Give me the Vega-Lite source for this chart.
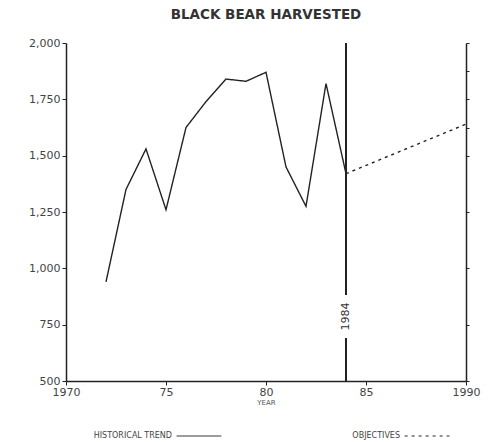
{
  "$schema": "https://vega.github.io/schema/vega-lite/v6.json",
  "width": 400,
  "height": 338,
  "autosize": "none",
  "padding": {"left": 66, "top": 43, "right": 25, "bottom": 61},
  "background": "white",
  "title": {"text": "BLACK BEAR HARVESTED", "font": "DejaVu Sans", "fontSize": 13.5, "fontWeight": "bold", "color": "#333", "offset": 16, "anchor": "middle"},
  "config": {
    "view": {"stroke": null},
    "axis": {"font": "DejaVu Sans", "labelFont": "DejaVu Sans", "titleFont": "DejaVu Sans", "labelColor": "#444", "domainColor": "#222", "tickColor": "#222", "grid": false, "labelFontSize": 11, "domainWidth": 1.5, "tickWidth": 1}
  },
  "datasets": {
    "harvest": [
      {"year": 1972, "bears": 940, "series": "HISTORICAL TREND"},
      {"year": 1973, "bears": 1350, "series": "HISTORICAL TREND"},
      {"year": 1974, "bears": 1530, "series": "HISTORICAL TREND"},
      {"year": 1975, "bears": 1260, "series": "HISTORICAL TREND"},
      {"year": 1976, "bears": 1625, "series": "HISTORICAL TREND"},
      {"year": 1977, "bears": 1740, "series": "HISTORICAL TREND"},
      {"year": 1978, "bears": 1840, "series": "HISTORICAL TREND"},
      {"year": 1979, "bears": 1830, "series": "HISTORICAL TREND"},
      {"year": 1980, "bears": 1870, "series": "HISTORICAL TREND"},
      {"year": 1981, "bears": 1450, "series": "HISTORICAL TREND"},
      {"year": 1982, "bears": 1275, "series": "HISTORICAL TREND"},
      {"year": 1983, "bears": 1820, "series": "HISTORICAL TREND"},
      {"year": 1984, "bears": 1420, "series": "HISTORICAL TREND"},
      {"year": 1984, "bears": 1420, "series": "OBJECTIVES"},
      {"year": 1990, "bears": 1640, "series": "OBJECTIVES"}
    ],
    "marker": [
      {"year": 1984, "from": 2000, "to": 882},
      {"year": 1984, "from": 691, "to": 500}
    ],
    "markerLabel": [
      {"year": 1984, "bears": 786, "label": "1984"}
    ]
  },
  "resolve": {"axis": {"y": "independent"}},
  "layer": [
    {
      "data": {"name": "harvest"},
      "mark": {"type": "line", "color": "#222", "strokeWidth": 1.4},
      "encoding": {
        "x": {"field": "year", "type": "quantitative", "scale": {"domain": [1970, 1990], "nice": false, "zero": false},
          "axis": {"values": [1970, 1975, 1980, 1985, 1990], "format": "d", "labelExpr": "(datum.value == 1970 || datum.value == 1990) ? datum.label : slice(datum.label, 2)", "title": "YEAR", "titleFontSize": 7, "titleFontWeight": "normal", "titleColor": "#555", "titlePadding": 1, "tickSize": 4, "labelPadding": 1, "labelFlush": false}},
        "y": {"field": "bears", "type": "quantitative", "scale": {"domain": [500, 2000], "nice": false, "zero": false},
          "axis": {"values": [500, 750, 1000, 1250, 1500, 1750, 2000], "format": ",d", "title": null, "tickSize": 4, "labelPadding": 2, "orient": "left"}},
        "strokeDash": {"field": "series", "type": "nominal",
          "scale": {"domain": ["HISTORICAL TREND", "OBJECTIVES"], "range": [[1, 0], [3, 4]]},
          "legend": {"title": null, "orient": "none", "direction": "horizontal", "legendX": 110, "legendY": 370, "symbolType": "stroke", "symbolSize": 2000, "symbolStrokeColor": "#222", "symbolStrokeWidth": 1, "labelAlign": "right", "labelOffset": -50, "labelFont": "DejaVu Sans", "labelFontSize": 8, "labelColor": "#444", "columnPadding": 128}
        },
        "detail": {"field": "series"}
      }
    },
    {
      "data": {"name": "marker"},
      "mark": {"type": "rule", "color": "#222", "strokeWidth": 2},
      "encoding": {
        "x": {"field": "year", "type": "quantitative"},
        "y": {"field": "from", "type": "quantitative", "axis": {"title": null, "orient": "right", "labels": false, "values": [500, 750, 1000, 1250, 1500, 1625, 1750, 1875, 2000], "tickSize": 3, "domainWidth": 1.5}},
        "y2": {"field": "to"}
      }
    },
    {
      "data": {"name": "markerLabel"},
      "mark": {"type": "text", "angle": 270, "font": "DejaVu Sans", "fontSize": 11, "color": "#333", "align": "center", "baseline": "middle"},
      "encoding": {
        "x": {"field": "year", "type": "quantitative"},
        "y": {"field": "bears", "type": "quantitative", "axis": null},
        "text": {"field": "label"}
      }
    }
  ]
}
